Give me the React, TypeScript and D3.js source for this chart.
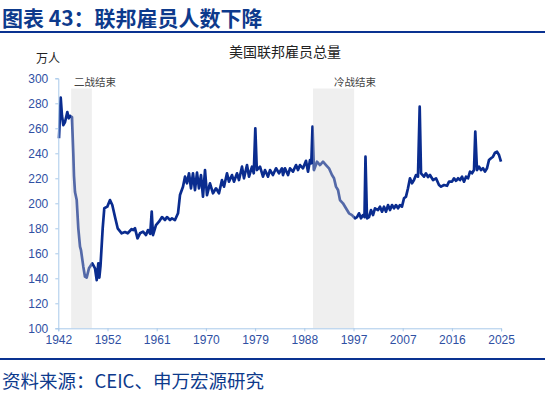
import { useEffect, useRef } from "react";
import * as d3 from "d3";

// federal employees, 万人
const years = [
  1942.13, 1942.45, 1942.69, 1942.94, 1943.26, 1943.69, 1943.95, 1944.19, 1944.57, 1944.62,
  1944.81, 1944.94, 1945.13, 1945.45, 1945.75, 1946.07, 1946.25, 1946.69, 1947.0, 1947.32,
  1947.75, 1948.37, 1948.88, 1949.2, 1949.5, 1949.69, 1949.91, 1950.32, 1950.62, 1951.18,
  1951.69, 1952.12, 1952.63, 1953.13, 1953.88, 1954.5, 1955.01, 1955.76, 1956.06, 1956.38,
  1956.85, 1957.31, 1957.88, 1958.44, 1958.81, 1959.23, 1959.51, 1959.75, 1960.31, 1960.87,
  1961.44, 1962.0, 1962.37, 1962.94, 1963.31, 1963.87, 1964.44, 1964.81, 1965.37, 1965.75,
  1966.12, 1966.5, 1966.87, 1967.25, 1967.62, 1968.0, 1968.37, 1968.75, 1969.12, 1969.5,
  1969.87, 1970.43, 1971.0, 1971.56, 1972.12, 1972.68, 1973.06, 1973.62, 1973.99, 1974.56,
  1974.93, 1975.5, 1975.87, 1976.43, 1976.81, 1977.37, 1977.75, 1978.31, 1978.64, 1978.93,
  1979.21, 1979.81, 1980.37, 1980.74, 1981.31, 1981.68, 1982.24, 1982.81, 1983.37, 1983.93,
  1984.12, 1984.49, 1985.06, 1985.43, 1985.99, 1986.56, 1986.93, 1987.31, 1987.87, 1988.43,
  1988.81, 1989.18, 1989.42, 1989.65, 1989.93, 1990.49, 1991.05, 1991.62, 1992.18, 1992.74,
  1993.3, 1993.68, 1994.05, 1994.43, 1994.8, 1995.36, 1995.92, 1996.49, 1997.05, 1997.61,
  1997.99, 1998.36, 1998.74, 1999.11, 1999.39, 1999.58, 1999.86, 2000.24, 2000.61, 2000.99,
  2001.36, 2001.93, 2002.3, 2002.68, 2003.05, 2003.43, 2003.8, 2004.18, 2004.55, 2004.93,
  2005.3, 2005.68, 2006.05, 2006.42, 2006.8, 2007.17, 2007.55, 2007.92, 2008.3, 2008.67,
  2009.05, 2009.42, 2009.74, 2009.99, 2010.55, 2010.92, 2011.3, 2011.67, 2012.24, 2012.8,
  2013.36, 2013.74, 2014.3, 2014.86, 2015.24, 2015.8, 2016.18, 2016.55, 2016.93, 2017.3,
  2017.68, 2018.05, 2018.42, 2018.8, 2019.17, 2019.55, 2019.92, 2020.16, 2020.48, 2020.86,
  2021.23, 2021.61, 2021.98, 2022.36, 2022.73, 2023.11, 2023.48, 2023.86, 2024.23, 2024.61,
  2024.98,
];
const employees = [
  252, 284.5, 270, 262.6, 265, 273, 268, 270, 269, 262,
  240, 222, 209, 202.6, 180, 165.3, 162.6, 149.3, 141.3, 140.5,
  148, 152, 148, 138.6, 152, 140.5, 150, 180, 196, 197.3,
  202.6, 198.6, 189, 180, 176, 177, 176, 179.4, 178.6, 180,
  172, 176, 177.3, 174.6, 178.6, 175.5, 193.3, 174.6, 182.6, 185.3,
  189, 186.6, 189, 186.6, 188, 186.6, 192, 206.6, 213.3, 221.3,
  216, 224, 212, 224, 210.6, 224.5, 212, 222.6, 205.3, 226.6,
  206.6, 216, 208, 212, 208, 218.6, 213.3, 224, 217.3, 222.6,
  217.3, 224, 218.6, 229.3, 220, 230.6, 221.3, 229.3, 224, 260,
  226.6, 229.3, 221.3, 226.6, 221.3, 226.6, 222.6, 228, 224, 228,
  222.6, 228, 222.6, 228, 225.3, 230.6, 226.6, 230.6, 228, 234,
  225.3, 234.6, 232, 261.3, 226.6, 233.3, 230.6, 233.3, 230.6, 228,
  222.6, 220, 213.3, 210.6, 202.6, 200, 196, 192, 190.6, 188,
  189, 192, 188, 190.6, 189, 237.3, 188, 189, 194.6, 190.6,
  196, 194.6, 197.3, 193.3, 197.3, 193.3, 198.6, 194.6, 198.6, 196,
  198.6, 196, 198.6, 197.3, 204, 205.3, 212, 220, 216, 218.6,
  222.6, 221.3, 277.3, 224, 221.3, 224, 221, 222.6, 218.6, 220,
  214.6, 213.3, 214.6, 214, 217.3, 217.3, 220, 218, 220, 218.6,
  221.3, 217.3, 221.3, 220, 225.3, 224, 226.6, 257.3, 226.6, 229.3,
  226.6, 228, 225.3, 228, 234.6, 236, 237.3, 240.5, 241.3, 238.6,
  233.3,
];
const tickLabels = ["1942", "1952", "1961", "1970", "1979", "1988", "1997", "2007", "2016", "2025"];
const yTicks = [100, 120, 140, 160, 180, 200, 220, 240, 260, 280, 300];
const spanLabels = ["二战结束", "冷战结束"];
const spanStart = [1944.4, 1989.75];
const spanEnd = [1948.3, 1997.45];

const W = 545;
const H = 395;
const CJK = "'Noto Sans CJK SC', sans-serif";
const LATIN = "'Liberation Sans', Arial, sans-serif";

export default function App() {
  const ref = useRef<SVGSVGElement | null>(null);

  useEffect(() => {
    if (!ref.current) return;
    const svg = d3.select(ref.current);
    svg.selectAll("*").remove();

    const left = 58.3, right = 501.1, top = 78.3, bottom = 328.3;
    const x = d3.scaleLinear().domain([1942, 2025]).range([left, right]);
    const y = d3.scaleLinear().domain([100, 300]).range([bottom, top]);

    // header
    svg.append("text").attr("x", 2).attr("y", 25.5)
      .attr("font-family", CJK).attr("font-weight", 700).attr("font-size", 21)
      .attr("fill", "#0d3a8c").text("图表 43：联邦雇员人数下降");
    svg.append("rect").attr("x", 0).attr("y", 31).attr("width", W).attr("height", 2).attr("fill", "#0a3291");

    svg.append("text").attr("x", 285).attr("y", 57).attr("text-anchor", "middle")
      .attr("font-family", CJK).attr("font-size", 14).attr("fill", "#222").text("美国联邦雇员总量");
    svg.append("text").attr("x", 36).attr("y", 62.5)
      .attr("font-family", CJK).attr("font-size", 12).attr("fill", "#222").text("万人");

    const data = years.map((yr, i) => ({ yr, v: employees[i] }));
    const line = d3.line<{ yr: number; v: number }>().x((d) => x(d.yr)).y((d) => y(d.v));
    svg.append("path").datum(data).attr("d", line).attr("fill", "none")
      .attr("stroke", "#0a2c8f").attr("stroke-width", 2.7).attr("stroke-linejoin", "round");

    // shaded periods drawn over the line (line looks lighter under them)
    spanLabels.forEach((lbl, i) => {
      const x0 = x(spanStart[i]);
      const x1 = x(spanEnd[i]);
      svg.append("rect").attr("x", x0).attr("y", 88.5).attr("width", x1 - x0).attr("height", bottom - 88.5)
        .attr("fill", "#d3d3d3").attr("fill-opacity", 0.37);
      svg.append("text")
        .attr("x", i === 0 ? x0 + 3 : x1 + 1)
        .attr("y", 85.5)
        .attr("text-anchor", i === 0 ? "start" : "middle")
        .attr("font-family", CJK).attr("font-size", 10.5).attr("fill", "#444").text(lbl);
    });

    const axisColor = "#a9c9ea";
    const yAxis = svg.append("g").attr("transform", `translate(${left},0)`)
      .call(d3.axisLeft(y).tickValues(yTicks).tickSize(3).tickPadding(7));
    yAxis.selectAll("path,line").attr("stroke", axisColor);
    yAxis.selectAll("text").attr("fill", "#2f50a3").attr("font-size", 12).attr("font-family", LATIN);

    const tickPos = tickLabels.map((_, i) => 1942 + (i * 83) / (tickLabels.length - 1));
    const xAxis = svg.append("g").attr("transform", `translate(0,${bottom})`)
      .call(d3.axisBottom(x).tickValues(tickPos).tickSize(3).tickPadding(4)
        .tickFormat((_, i) => tickLabels[i]));
    xAxis.selectAll("path,line").attr("stroke", axisColor);
    xAxis.selectAll("text").attr("fill", "#2f50a3").attr("font-size", 12).attr("font-family", LATIN);

    // footer
    svg.append("rect").attr("x", 0).attr("y", 358).attr("width", W).attr("height", 2).attr("fill", "#0a3291");
    svg.append("text").attr("x", 2).attr("y", 387.5)
      .attr("font-family", CJK).attr("font-size", 18.5).attr("fill", "#0d3a8c").text("资料来源：CEIC、申万宏源研究");
  }, []);

  return (
    <svg ref={ref} width={W} height={H}
      style={{ position: "fixed", left: 0, top: 0, background: "#fff" }} />
  );
}
